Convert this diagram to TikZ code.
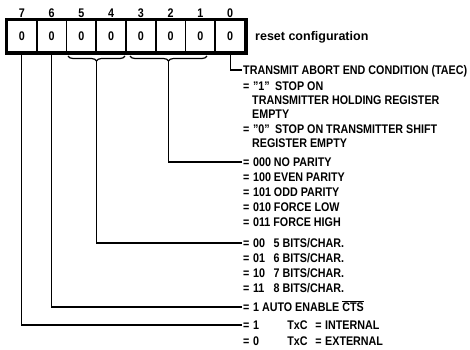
\documentclass[tikz,border=0pt]{standalone}
\usepackage{fontspec}
\usepackage{graphicx}
\setmainfont{Liberation Sans}
\usetikzlibrary{decorations.pathreplacing}

\newcommand{\rowfont}{\bfseries\fontsize{12.5}{13}\selectfont}
\newlength{\taecwd}
\newcommand{\rowtxt}[1]{\scalebox{\rowsx}[1]{#1}}
\newcommand{\eqcol}{\makebox[11.5pt][l]{=}}

\tikzset{
  cell/.style={draw, line width=1.8pt, minimum width=29.75pt, minimum height=32pt, inner sep=0pt, font=\rowfont},
  bitno/.style={inner sep=0pt, font=\rowfont},
  row/.style={anchor=west, inner sep=1.5pt, text height=9pt, text depth=0pt, font=\rowfont},
  wire/.style={line width=1.2pt},
  regbrace/.style={decorate, decoration={brace, mirror, amplitude=5pt}, line width=1.2pt}
}

\begin{document}
% squeeze the bold text so the widest line is 224pt
\settowidth{\taecwd}{\rowfont TRANSMIT ABORT END CONDITION (TAEC)}
\pgfmathsetmacro{\rowsx}{224/\taecwd}
\begin{tikzpicture}[x=1pt, y=-1pt]
    \useasboundingbox (0,0) rectangle (470,349);
    % register with reset values
    \foreach \b [count=\k from 0] in {7,...,0} {
        \node[cell] (c\b) at ({7+29.75*(\k+0.5)}, 36) {\rowtxt{0}};
        \node[bitno] (n\b) at ({7+29.75*(\k+0.5)}, 13) {\rowtxt{\b}};
    }
    \draw[line width=3.2pt] (c7.north west) rectangle (c0.south east);
    \node[anchor=west, inner sep=0pt, font=\bfseries\fontsize{12.5}{13}\selectfont] (reset) at (255,37) {reset configuration};
    % braces
    \coordinate (b54l) at (68,56);
    \coordinate (b54r) at (125,56);
    \coordinate (b31l) at (130,56);
    \coordinate (b31r) at (207,56);
    \draw[regbrace] (b54l) -- (b54r);
    \draw[regbrace] (b31l) -- (b31r);
    \coordinate (tip54) at (96.5,61);
    \coordinate (tip31) at (168.5,61);
    % bit 0
    \node[row] (taec) at (241.5,70) {\rowtxt{TRANSMIT ABORT END CONDITION (TAEC)}};
    \node[row] (taec1) at (241.5,86) {\rowtxt{\eqcol''1''\enspace STOP ON}};
    \node[row] (taec2) at (250.5,100) {\rowtxt{TRANSMITTER HOLDING REGISTER}};
    \node[row] (taec3) at (250.5,114) {\rowtxt{EMPTY}};
    \node[row] (taec0) at (241.5,129) {\rowtxt{\eqcol''0''\enspace STOP ON TRANSMITTER SHIFT}};
    \node[row] (taec4) at (250.5,143) {\rowtxt{REGISTER EMPTY}};
    % bits 3-1
    \node[row] (par0) at (241.5,162) {\rowtxt{\eqcol000 NO PARITY}};
    \node[row] (par1) at (241.5,177) {\rowtxt{\eqcol100 EVEN PARITY}};
    \node[row] (par2) at (241.5,192) {\rowtxt{\eqcol101 ODD PARITY}};
    \node[row] (par3) at (241.5,207) {\rowtxt{\eqcol010 FORCE LOW}};
    \node[row] (par4) at (241.5,222) {\rowtxt{\eqcol011 FORCE HIGH}};
    % bits 5-4
    \node[row] (bits0) at (241.5,243) {\rowtxt{\eqcol\makebox[24pt][l]{00}5 BITS/CHAR.}};
    \node[row] (bits1) at (241.5,258) {\rowtxt{\eqcol\makebox[24pt][l]{01}6 BITS/CHAR.}};
    \node[row] (bits2) at (241.5,273) {\rowtxt{\eqcol\makebox[24pt][l]{10}7 BITS/CHAR.}};
    \node[row] (bits3) at (241.5,288) {\rowtxt{\eqcol\makebox[24pt][l]{11}8 BITS/CHAR.}};
    % bits 6 and 7
    \node[row] (cts) at (241.5,307) {\rowtxt{\eqcol1 AUTO ENABLE $\overline{\hbox{CTS}}$}};
    \node[row] (txc1) at (241.5,325) {\rowtxt{\eqcol\makebox[40pt][l]{1}\makebox[32.5pt][l]{TxC}\makebox[11.5pt][l]{=}INTERNAL}};
    \node[row] (txc0) at (241.5,341) {\rowtxt{\eqcol\makebox[40pt][l]{0}\makebox[32.5pt][l]{TxC}\makebox[11.5pt][l]{=}EXTERNAL}};
    % connectors
    \draw[wire] (c0.south) |- (taec.west);
    \draw[wire] (tip31) |- (par0.west);
    \draw[wire] (tip54) |- (bits0.west);
    \draw[wire] (c6.south) |- (cts.west);
    \draw[wire] (c7.south) |- (txc1.west);
\end{tikzpicture}
\end{document}
